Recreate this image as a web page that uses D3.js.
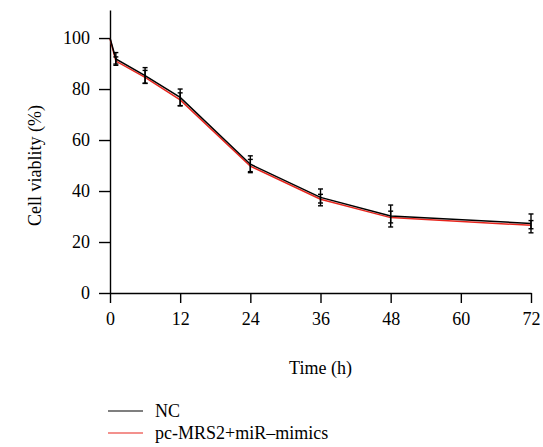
<!DOCTYPE html>
<html>
<head>
<meta charset="utf-8">
<script src="https://cdn.jsdelivr.net/npm/d3@7"></script>
<style>
  body { margin: 0; background: #fff; }
  text { font-family: "Liberation Serif", "DejaVu Serif", serif; }
</style>
</head>
<body>
<div id="chart"></div>
<script>
var width = 543, height = 447;

// values
var hours = [0, 1, 6, 12, 24, 36, 48, 72];
var ncValues = [100, 91.8, 85.3, 76.7, 50.5, 37.5, 30.2, 27.3];
var ncErrors = [0, 2.5, 3.1, 3.3, 3.3, 3.3, 4.3, 3.7];
var mimicValues = [100, 91.2, 84.8, 76.0, 50.0, 37.0, 29.8, 26.8];
var mimicErrors = [0, 1.4, 2.5, 2.5, 2.4, 1.7, 2.3, 1.6];
var xTicks = [0, 12, 24, 36, 48, 60, 72];
var yTicks = [0, 20, 40, 60, 80, 100];
var seriesNames = ["NC", "pc-MRS2+miR\u2013mimics"];
var seriesColors = ["#000000", "#e8251d"];

var svg = d3.select("#chart")
    .append("svg")
    .attr("width", width)
    .attr("height", height);

var x = d3.scaleLinear().domain([0, 72]).range([110, 531]);
var y = d3.scaleLinear().domain([0, 111]).range([293, 10]);

var xAxis = svg.append("g")
    .attr("transform", "translate(0," + y(0) + ")")
    .call(d3.axisBottom(x).tickValues(xTicks).tickSize(10).tickPadding(9).tickSizeOuter(0));

var yAxis = svg.append("g")
    .attr("transform", "translate(" + x(0) + ",0)")
    .call(d3.axisLeft(y).tickValues(yTicks).tickSize(11).tickPadding(9).tickSizeOuter(0));

[xAxis, yAxis].forEach(function (g) {
    g.selectAll("path, line").attr("stroke", "#000").attr("stroke-width", 1.4);
    g.selectAll("text").attr("font-size", 18).attr("fill", "#000")
        .style("font-family", "'Liberation Serif', serif");
});

svg.append("text")
    .attr("x", x(36))
    .attr("y", 374)
    .attr("text-anchor", "middle")
    .attr("font-size", 18)
    .text("Time (h)");

svg.append("text")
    .attr("transform", "translate(41," + y(50) + ") rotate(-90)")
    .attr("text-anchor", "middle")
    .attr("font-size", 18)
    .text("Cell viablity (%)");

var series = [
    { name: seriesNames[1], color: seriesColors[1], values: mimicValues, errors: mimicErrors, dy: 0.6 },
    { name: seriesNames[0], color: seriesColors[0], values: ncValues, errors: ncErrors, dy: 0 }
];

var line = d3.line()
    .x(function (d) { return x(d.t); })
    .y(function (d) { return y(d.v); });

series.forEach(function (s) {
    var pts = hours.map(function (t, i) { return { t: t, v: s.values[i], e: s.errors[i] }; });
    svg.append("path")
        .datum(pts)
        .attr("fill", "none")
        .attr("stroke", s.color)
        .attr("stroke-width", 1.5)
        .attr("transform", "translate(0," + s.dy + ")")
        .attr("d", line);
});

// error bars (black for both series)
series.forEach(function (s) {
    var pts = hours.map(function (t, i) { return { t: t, v: s.values[i], e: s.errors[i] }; })
        .filter(function (d) { return d.e > 0; });
    var g = svg.append("g").attr("stroke", "#000").attr("stroke-width", 1.4);
    g.selectAll("line.v").data(pts).join("line")
        .attr("x1", d => x(d.t)).attr("x2", d => x(d.t))
        .attr("y1", d => y(d.v + d.e)).attr("y2", d => y(d.v - d.e));
    g.selectAll("line.top").data(pts).join("line")
        .attr("x1", d => x(d.t) - 2.5).attr("x2", d => x(d.t) + 2.5)
        .attr("y1", d => y(d.v + d.e)).attr("y2", d => y(d.v + d.e));
    g.selectAll("line.bot").data(pts).join("line")
        .attr("x1", d => x(d.t) - 2.5).attr("x2", d => x(d.t) + 2.5)
        .attr("y1", d => y(d.v - d.e)).attr("y2", d => y(d.v - d.e));
});

// legend
var legend = svg.append("g");
seriesNames.forEach(function (name, i) {
    var ly = 411 + i * 22;
    legend.append("line")
        .attr("x1", 108).attr("x2", 143)
        .attr("y1", ly).attr("y2", ly)
        .attr("stroke", seriesColors[i])
        .attr("stroke-width", 1.2);
    legend.append("text")
        .attr("x", 155)
        .attr("y", ly + 6)
        .attr("font-size", 18)
        .text(name);
});
</script>
</body>
</html>
